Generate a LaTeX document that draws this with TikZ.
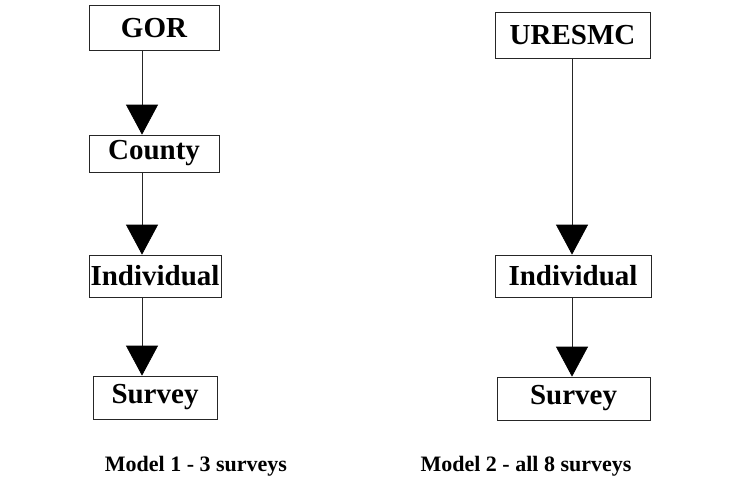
\documentclass[tikz,border=0pt]{standalone}
\usepackage{fontspec}
\setmainfont{Liberation Serif}
\usetikzlibrary{arrows.meta}
\tikzset{
  boxnode/.style={draw=black!85, line width=0.7pt, rectangle, inner sep=0pt,
    font=\fontsize{29}{31}\selectfont\bfseries},
  link/.style={draw=black!85, line width=0.7pt, -{Triangle[width=32pt,length=30pt,fill=black,color=black]}},
  caption/.style={font=\fontsize{22}{24}\selectfont\bfseries, inner sep=0pt}
}
\begin{document}
\begin{tikzpicture}[x=1pt,y=-1pt]
\useasboundingbox (0,0) rectangle (729,499);
% left model
\node[boxnode, minimum width=130pt, minimum height=45pt] (gor) at (154,28) {GOR};
\node[boxnode, minimum width=130pt, minimum height=37pt] (county) at (154,153.5) {County};
\node[boxnode, minimum width=132pt, minimum height=42pt] (indl) at (155,276) {Individual};
\node[boxnode, minimum width=124pt, minimum height=43pt] (survl) at (155,397.5) {Survey};
\draw[link] ([xshift=-12pt]gor.south) -- ([xshift=-12pt]county.north);
\draw[link] ([xshift=-12pt]county.south) -- ([xshift=-13pt]indl.north);
\draw[link] ([xshift=-13pt]indl.south) -- ([xshift=-13pt]survl.north);
% right model
\node[boxnode, minimum width=155pt, minimum height=46pt] (ures) at (572.5,35) {URESMC};
\node[boxnode, minimum width=156pt, minimum height=42pt] (indr) at (573,276) {Individual};
\node[boxnode, minimum width=153pt, minimum height=43pt] (survr) at (573.5,398.5) {Survey};
\draw[link] ([xshift=-0.5pt]ures.south) -- ([xshift=-1pt]indr.north);
\draw[link] ([xshift=-1pt]indr.south) -- ([xshift=-1.5pt]survr.north);
% captions
\node[caption] (cap1) at (196,466) {Model 1 - 3 surveys};
\node[caption] (cap2) at (526,466) {Model 2 - all 8 surveys};
\end{tikzpicture}
\end{document}
